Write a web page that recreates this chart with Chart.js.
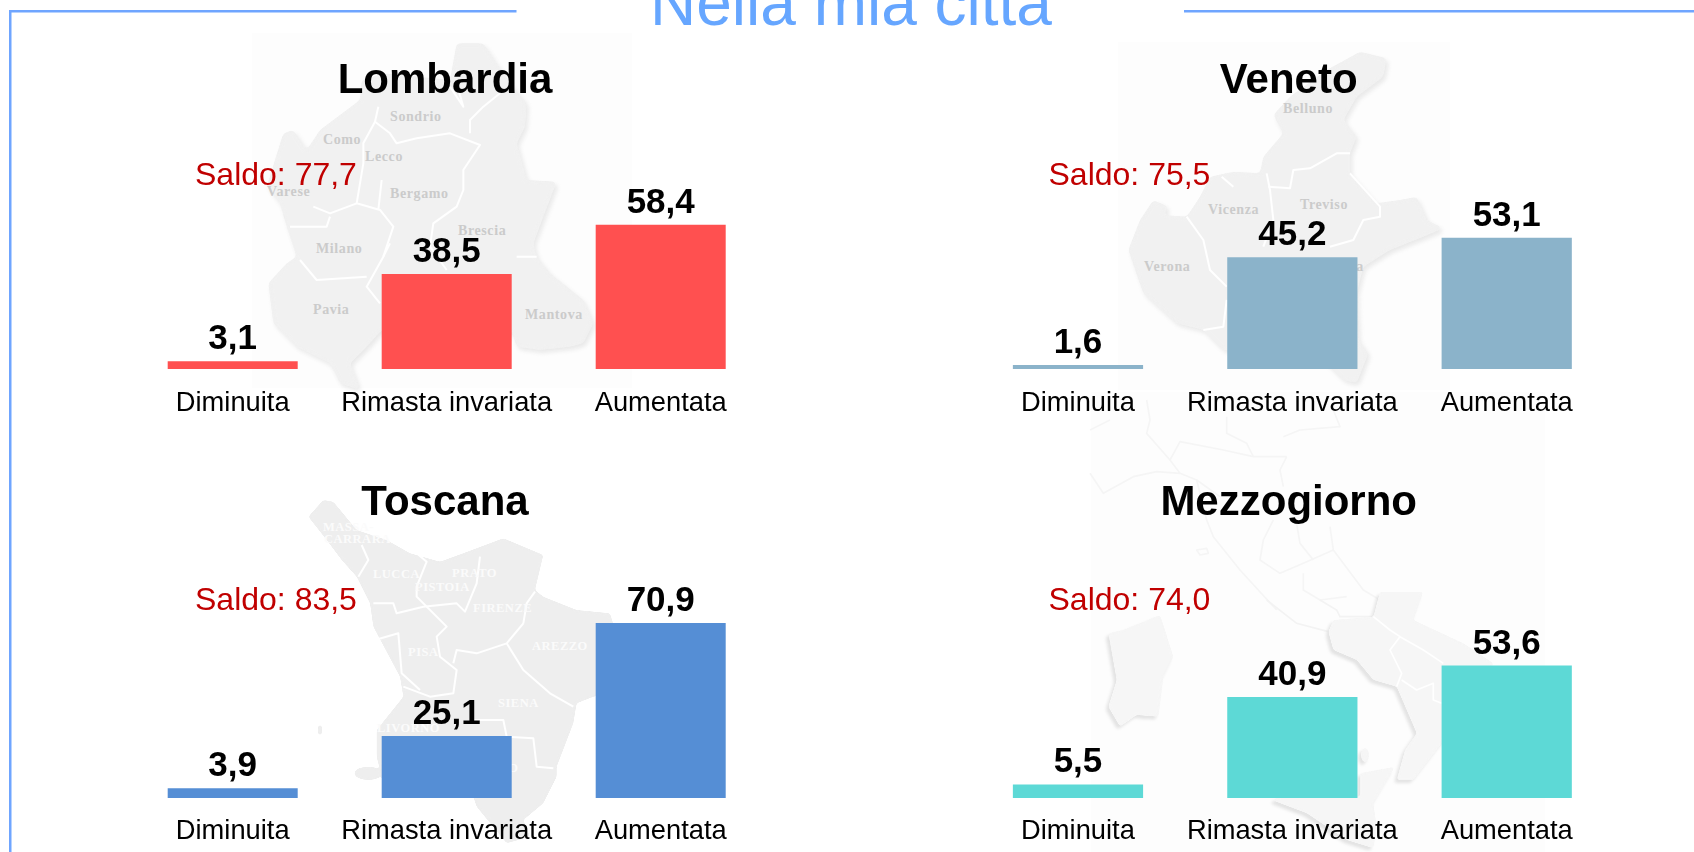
<!DOCTYPE html>
<html lang="it"><head><meta charset="utf-8"><title>Nella mia città</title>
<script src="https://cdn.jsdelivr.net/npm/chart.js@4"></script>
<style>
html,body{margin:0;padding:0;background:#fff;width:1694px;height:852px;overflow:hidden;font-family:"Liberation Sans",Arial,sans-serif}
#maps{position:absolute;left:0;top:0}
canvas{position:absolute}
#pagetitle{position:absolute;left:650px;top:-41px;font-size:64px;line-height:88px;color:#66a6ff;white-space:nowrap}
</style></head><body>
<svg id="maps" width="1694" height="852" xmlns="http://www.w3.org/2000/svg">
<defs>
<filter id="rr" x="-10%" y="-10%" width="120%" height="120%" color-interpolation-filters="sRGB"><feGaussianBlur in="SourceGraphic" stdDeviation="7" result="b"/><feComponentTransfer in="b" result="s"><feFuncA type="linear" slope="8" intercept="-3.5"/></feComponentTransfer><feDropShadow in="s" dx="7" dy="9" stdDeviation="6" flood-color="#dcdcdc" flood-opacity=".6"/></filter>
<filter id="rl" x="-10%" y="-10%" width="120%" height="120%" color-interpolation-filters="sRGB"><feGaussianBlur in="SourceGraphic" stdDeviation="5" result="b"/><feComponentTransfer in="b" result="s"><feFuncA type="linear" slope="8" intercept="-3.5"/></feComponentTransfer><feDropShadow in="s" dx="-8" dy="9" stdDeviation="5" flood-color="#d8d8d8" flood-opacity=".7"/></filter>
<filter id="rn" x="-10%" y="-10%" width="120%" height="120%" color-interpolation-filters="sRGB"><feGaussianBlur in="SourceGraphic" stdDeviation="5" result="b"/><feComponentTransfer in="b"><feFuncA type="linear" slope="8" intercept="-3.5"/></feComponentTransfer></filter>
<filter id="ln" x="-5%" y="-5%" width="110%" height="110%"><feGaussianBlur stdDeviation="1.2"/></filter>
</defs>
<rect x="252" y="33" width="380" height="355" fill="#fdfdfd"/>
<rect x="1118" y="42" width="332" height="348" fill="#fdfdfd"/>
<rect x="1091" y="392" width="454" height="460" fill="#fdfdfd"/>

<!-- Lombardia -->
<g transform="translate(250,30) scale(.33333)">
<path filter="url(#rr)" fill="#f1f1f1" d="M620,40 700,40 740,100 780,160 830,220 825,290 800,340 830,450 920,455 880,560 850,640 860,680 900,730 1000,810 1030,880 1000,940 960,950 870,960 800,950 785,900 700,960 395,900 350,950 300,1000 330,1080 270,1060 240,1000 140,950 70,880 55,760 110,700 140,680 110,590 90,520 50,470 100,310 130,300 170,360 210,300 330,210 335,150 400,130 600,150Z"/>
<g filter="url(#ln)" fill="none" stroke="#fff" stroke-width="6" stroke-linejoin="round">
<path d="M385,230 375,275 420,310 440,340 500,325 600,310 690,345 640,420 640,480 620,530 550,580 540,650 590,720"/>
<path d="M750,190 700,230 660,270 660,310"/>
<path d="M375,275 340,340 340,400 320,520 390,540 430,590 400,680 350,770 390,820"/>
<path d="M395,450 385,540 M320,520 240,550 190,530 M240,560 230,590 120,590 M150,690 200,750 350,740 M800,680 860,680 M420,640 400,680 M600,170 640,230 620,160"/>
</g></g>
<g font-family="Liberation Serif" font-weight="bold" font-size="14" letter-spacing=".6" fill="#cbcbcb">
<text x="390" y="121">Sondrio</text><text x="323" y="144">Como</text><text x="365" y="161">Lecco</text><text x="267" y="196">Varese</text><text x="390" y="198">Bergamo</text><text x="458" y="235">Brescia</text><text x="316" y="253">Milano</text><text x="313" y="314">Pavia</text><text x="525" y="319">Mantova</text>
</g>

<!-- Veneto -->
<g transform="translate(1110,40) scale(.33333)">
<path filter="url(#rr)" fill="#f1f1f1" d="M750,35 830,55 820,110 740,170 700,240 740,290 720,340 720,400 800,490 870,480 920,470 950,540 1000,565 940,590 840,630 760,680 740,760 745,900 775,940 740,1030 700,1020 640,960 340,930 280,870 200,850 100,760 55,630 90,540 130,480 175,500 160,525 230,530 270,470 300,410 370,395 450,400 460,350 520,280 490,225 540,170 650,90Z"/>
<g filter="url(#ln)" fill="none" stroke="#fff" stroke-width="6" stroke-linejoin="round">
<path d="M475,440 540,445 550,390 600,385 680,340 720,340"/>
<path d="M470,400 480,450 490,540 460,620"/>
<path d="M230,530 280,600 300,690 350,740"/>
<path d="M720,400 810,500 810,530 760,540 730,600 660,620"/>
<path d="M335,410 370,440"/>
<path d="M280,870 340,860 350,780"/>
</g></g>
<g font-family="Liberation Serif" font-weight="bold" font-size="14" letter-spacing=".6" fill="#cbcbcb">
<text x="1283" y="113">Belluno</text><text x="1208" y="214">Vicenza</text><text x="1300" y="209">Treviso</text><text x="1144" y="271">Verona</text><text x="1316" y="271">Padova</text>
</g>

<!-- Toscana -->
<g transform="translate(290,490) scale(.33333)">
<g filter="url(#rn)" fill="#eeeeee">
<path d="M55,80 100,30 130,35 200,120 290,150 360,190 450,215 520,190 640,145 760,195 735,300 760,320 860,360 960,370 1000,500 1000,600 910,620 860,640 850,700 800,830 800,860 760,940 700,990 720,1040 650,1060 560,950 550,920 290,920 260,800 260,720 340,620 330,560 250,410 240,340 200,260 155,210 110,150Z"/>
<ellipse cx="235" cy="850" rx="42" ry="20"/><ellipse cx="90" cy="720" rx="7" ry="16"/>
</g>
<g filter="url(#ln)" fill="none" stroke="#fff" stroke-width="6" stroke-linejoin="round">
<path d="M215,165 235,210 205,260"/>
<path d="M375,185 410,215 380,290 380,320 410,350 470,410 440,440 450,500 500,540 490,610 420,620 340,590"/>
<path d="M250,340 310,340 320,370 400,350 500,340 525,365 560,280 570,200"/>
<path d="M700,400 710,340 735,305 M700,400 650,460 560,490 500,480 490,520"/>
<path d="M650,460 700,540 780,610 850,650"/>
<path d="M255,450 325,430 335,550 390,600"/>
<path d="M550,690 640,690 650,740 730,745 740,830 790,835"/>
</g></g>
<g font-family="Liberation Serif" font-weight="bold" font-size="12.5" letter-spacing=".5" fill="#fbfbfb">
<text x="323" y="531">MASSA-</text><text x="324" y="543">CARRARA</text><text x="373" y="578">LUCCA</text><text x="452" y="577">PRATO</text><text x="415" y="591">PISTOIA</text><text x="473" y="612">FIRENZE</text><text x="408" y="656">PISA</text><text x="532" y="650">AREZZO</text><text x="498" y="707">SIENA</text><text x="377" y="732">LIVORNO</text><text x="446" y="772">GROSSETO</text>
</g>

<!-- Italia centro-nord (Mezzogiorno) -->
<g transform="translate(1090,400) scale(.33333)" fill="none" stroke="#f5f5f5" stroke-width="5" stroke-linejoin="round">
<path d="M170,0 180,60 170,100 240,180 270,125 400,150 490,170 590,170"/>
<path d="M410,50 410,100 470,130 490,170 M580,110 630,90 750,80 730,30"/>
<path d="M590,170 570,210 580,260 M0,220 40,280 130,230 200,215 270,220 320,240 390,290 M240,180 270,220 M0,90 60,60"/>
<path d="M320,240 350,360 370,410 450,510 560,630"/>
<path d="M550,360 520,420 510,480 570,520 640,490 730,450 820,570 870,600"/>
<path d="M620,370 630,430 670,480 M720,380 730,450 M640,520 640,570 690,600 770,590"/>
<path d="M320,450 350,445 355,460 330,465Z"/>
</g>
<!-- Mezzogiorno -->
<g transform="translate(1080,600) scale(.33333)">
<path fill="none" stroke="#f3f3f3" stroke-width="5" d="M560,0 650,70 745,95 M720,0 770,30 780,50 880,50"/>
<g filter="url(#rl)" fill="#f6f6f6">
<path d="M240,45 255,90 280,170 250,230 235,350 170,345 120,380 85,320 110,240 85,100 130,90Z"/>
<path d="M745,95 760,60 880,50 900,-25 1030,-25 1000,60 1150,130 1240,190 1200,300 1085,430 1000,540 950,540 975,450 1010,400 950,260 880,240 830,180 760,150Z"/>
<path d="M840,520 945,500 880,610 890,680 880,745 800,720 680,640 575,600 600,590 840,590Z"/>
<ellipse cx="855" cy="465" rx="12" ry="22"/>
</g>
<g filter="url(#ln)" fill="none" stroke="#fff" stroke-width="5" stroke-linejoin="round">
<path d="M880,50 930,90 960,110 1030,150 1090,190 M960,110 930,150 965,220 950,260 M965,240 1010,270 1060,250 1060,300 1085,310"/>
</g></g>

<!-- cornice -->
<g fill="#6fa5ff"><rect x="9" y="10" width="2.5" height="842"/><rect x="9" y="10" width="507.5" height="2.5"/><rect x="1184" y="10" width="510" height="2.5"/></g>
</svg>
<div id="pagetitle">Nella mia città</div>
<canvas id="c0" style="left:95px;top:40px" width="700" height="385"></canvas>
<canvas id="c1" style="left:939px;top:40px" width="700" height="385"></canvas>
<canvas id="c2" style="left:95px;top:462px" width="700" height="390"></canvas>
<canvas id="c3" style="left:939px;top:462px" width="700" height="390"></canvas>
<script>
const categories = ["Diminuita", "Rimasta invariata", "Aumentata"];
const regions = ["Lombardia", "Veneto", "Toscana", "Mezzogiorno"];
const lombardia = [3.1, 38.5, 58.4];
const veneto = [1.6, 45.2, 53.1];
const toscana = [3.9, 25.1, 70.9];
const mezzogiorno = [5.5, 40.9, 53.6];
const saldi = [77.7, 75.5, 83.5, 74.0];
const colors = ["#ff5050", "#8bb3ca", "#558ed5", "#5dd9d6"];
const series = [lombardia, veneto, toscana, mezzogiorno];

const it = v => v.toFixed(1).replace(".", ",");
const font = '"Liberation Sans", Arial, sans-serif';

const layouts = [
  {pl:30.7, pr:27.3, top:82, axis:56, tick:18, sx:100,   sy:145, tx:350,   ty:53},
  {pl:31.8, pr:25.1, top:82, axis:56, tick:18, sx:109.5, sy:145, tx:349.7, ty:53},
  {pl:30.7, pr:27.3, top:89, axis:54, tick:17, sx:100,   sy:148, tx:350,   ty:53},
  {pl:31.8, pr:25.1, top:89, axis:54, tick:17, sx:109.5, sy:148, tx:349.7, ty:53}
];

const labelsPlugin = {
  id: "panelText",
  afterDatasetsDraw(chart, args, o) {
    const c = chart.ctx, meta = chart.getDatasetMeta(0);
    c.save();
    c.textBaseline = "alphabetic"; c.fillStyle = "#000";
    c.textAlign = "center"; c.font = "bold 42px " + font;
    c.fillText(o.title, o.tx, o.ty);
    c.font = "bold 35px " + font;
    meta.data.forEach((bar, i) => c.fillText(it(chart.data.datasets[0].data[i]), bar.x, bar.y - 12));
    c.textAlign = "left"; c.fillStyle = "#c00000"; c.font = "32px " + font;
    c.fillText("Saldo: " + it(o.saldo), o.sx, o.sy);
    c.restore();
  }
};

regions.forEach((name, i) => {
  const L = layouts[i];
  new Chart(document.getElementById("c" + i), {
    type: "bar",
    plugins: [labelsPlugin],
    data: { labels: categories, datasets: [{ data: series[i], backgroundColor: colors[i], categoryPercentage: 1, barPercentage: 0.6075 }] },
    options: {
      responsive: false, animation: false,
      layout: { padding: { left: L.pl, right: L.pr, top: L.top, bottom: 0 } },
      plugins: {
        legend: { display: false }, tooltip: { enabled: false },
        panelText: { title: name, saldo: saldi[i], sx: L.sx, sy: L.sy, tx: L.tx, ty: L.ty }
      },
      scales: {
        x: { afterFit(s) { s.height = L.axis; }, grid: { display: false, drawTicks: false }, border: { display: false },
             ticks: { color: "#000", padding: L.tick, maxRotation: 0, autoSkip: false, font: { family: font, size: 27.3 } } },
        y: { display: false, min: 0, max: 100 }
      }
    }
  });
});
</script>
</body></html>
